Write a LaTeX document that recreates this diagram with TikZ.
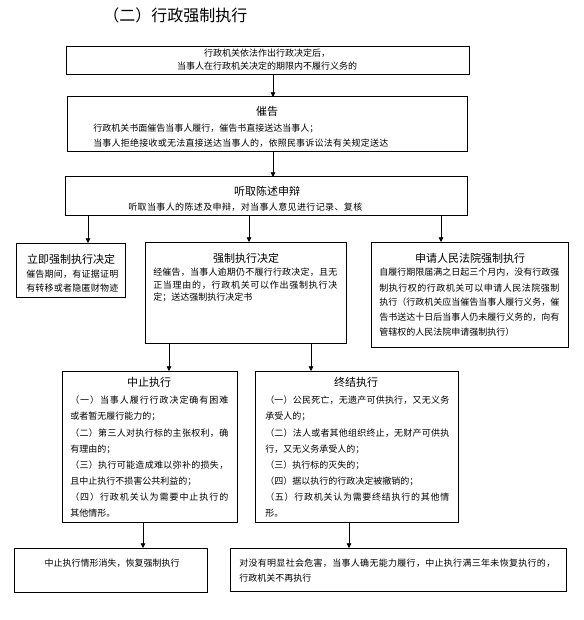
\documentclass[tikz,border=0pt]{standalone}
\usepackage{fontspec}
\setmainfont{Noto Sans CJK SC}
\usetikzlibrary{arrows.meta}
\newdimen\mypx \mypx=0.75pt
\def\jloop#1{\ifx\relax#1\else#1\hskip 0pt plus 1fil\expandafter\jloop\fi}
\newcommand\jl[2]{\hbox to #1\mypx{\jloop#2\relax\unskip}}
\newcommand\boxat[5]{\node[box, minimum width=#4\mypx, minimum height=#5\mypx] (#1) at (#2,#3) {};}
\tikzset{
  box/.style={draw=black, line width=0.75pt, anchor=north west, inner sep=0pt, outer sep=0pt},
  tt/.style={inner sep=0pt, font=\fontsize{8.25pt}{10pt}\selectfont},
  tx/.style={inner sep=0pt, anchor=west, font=\fontsize{6.75pt}{8pt}\selectfont},
  txc/.style={inner sep=0pt, font=\fontsize{6.75pt}{8pt}\selectfont},
  arr/.style={line width=0.6pt, -{Triangle[length=3.5pt,width=3.5pt]}},
}
\begin{document}
\begin{tikzpicture}[x=0.75pt,y=-0.75pt]
\useasboundingbox (0,0) rectangle (583,620);
% x positions of connectors
\coordinate (xA) at (273,0);
\coordinate (xL) at (88,0);
\coordinate (xM) at (249,0);
\coordinate (xR) at (441,0);
\coordinate (xP) at (169,0);
\coordinate (xQ) at (311,0);
\coordinate (xS) at (143,0);
\coordinate (xT) at (349,0);

\node[inner sep=0pt, anchor=west, font=\fontsize{12pt}{14pt}\selectfont] (title) at (103,15) {（二）行政强制执行};

% boxes
\boxat{b1}{66}{47}{403}{28}
\boxat{b2}{67}{97}{400}{55}
\boxat{b3}{65}{177}{402}{38}
\boxat{b4}{16}{243}{109}{54}
\boxat{b5}{145}{242}{201}{101}
\boxat{b6}{371}{242}{197}{105}
\boxat{b7}{62}{371}{175}{151}
\boxat{b8}{255}{371}{203}{151}
\boxat{b9}{14}{548}{193}{44}
\boxat{b10}{230}{548}{336}{43}

% box 1
\node[txc] (t1a) at (267,53) {行政机关依法作出行政决定后，};
\node[txc] (t1b) at (267,66) {当事人在行政机关决定的期限内不履行义务的};

% box 2
\node[tt] (t2) at (267,111) {催告};
\node[tx] (t2a) at (93,128) {行政机关书面催告当事人履行，催告书直接送达当事人；};
\node[tx] (t2b) at (93,143) {\jl{295}{当事人拒绝接收或无法直接送达当事人的，依照民事诉讼法有关规定送达}};

% box 3
\node[tt] (t3) at (267,191) {听取陈述申辩};
\node[tx] (t3a) at (128,207) {\jl{234}{听取当事人的陈述及申辩，对当事人意见进行记录、复核}};

% box 4
\node[tt] (t4) at (71,259) {立即强制执行决定};
\node[tx] (t4a) at (26,274) {\jl{92}{催告期间，有证据证明}};
\node[tx] (t4b) at (26,288) {\jl{92}{有转移或者隐匿财物迹}};

% box 5
\node[tt] (t5) at (246,258) {强制执行决定};
\node[tx] (t5a) at (153,272) {\jl{184}{经催告，当事人逾期仍不履行行政决定，且无}};
\node[tx] (t5b) at (153,285) {\jl{184}{正当理由的，行政机关可以作出强制执行决}};
\node[tx] (t5c) at (153,297) {定；送达强制执行决定书};

% box 6
\node[tt] (t6) at (470,258) {申请人民法院强制执行};
\node[tx] (t6a) at (379,272) {\jl{180}{自履行期限届满之日起三个月内，没有行政强}};
\node[tx] (t6b) at (379,288) {\jl{180}{制执行权的行政机关可以申请人民法院强制}};
\node[tx] (t6c) at (379,302) {\jl{180}{执行（行政机关应当催告当事人履行义务，催}};
\node[tx] (t6d) at (379,317) {\jl{180}{告书送达十日后当事人仍未履行义务的，向有}};
\node[tx] (t6e) at (379,332) {管辖权的人民法院申请强制执行）};

% box 7
\node[tt] (t7) at (149,382) {中止执行};
\node[tx] (t7a) at (70,400) {\jl{158}{（一）当事人履行行政决定确有困难}};
\node[tx] (t7b) at (70,416) {或者暂无履行能力的；};
\node[tx] (t7c) at (70,433) {\jl{158}{（二）第三人对执行标的主张权利，确}};
\node[tx] (t7d) at (70,449) {有理由的；};
\node[tx] (t7e) at (70,465) {\jl{158}{（三）执行可能造成难以弥补的损失，}};
\node[tx] (t7f) at (70,481) {且中止执行不损害公共利益的；};
\node[tx] (t7g) at (70,497) {\jl{158}{（四）行政机关认为需要中止执行的}};
\node[tx] (t7h) at (70,513) {其他情形。};

% box 8
\node[tt] (t8) at (356,382) {终结执行};
\node[tx] (t8a) at (265,400) {\jl{184}{（一）公民死亡，无遗产可供执行，又无义务}};
\node[tx] (t8b) at (265,416) {承受人的；};
\node[tx] (t8c) at (265,433) {\jl{184}{（二）法人或者其他组织终止，无财产可供执}};
\node[tx] (t8d) at (265,449) {行，又无义务承受人的；};
\node[tx] (t8e) at (265,465) {（三）执行标的灭失的；};
\node[tx] (t8f) at (265,481) {（四）据以执行的行政决定被撤销的；};
\node[tx] (t8g) at (265,497) {\jl{184}{（五）行政机关认为需要终结执行的其他情}};
\node[tx] (t8h) at (265,513) {形。};

% box 9
\node[txc] (t9) at (112,563) {中止执行情形消失，恢复强制执行};

% box 10
\node[tx] (t10a) at (239,563) {\jl{316}{对没有明显社会危害，当事人确无能力履行，中止执行满三年未恢复执行的，}};
\node[tx] (t10b) at (239,578) {行政机关不再执行};

% connectors
\draw[arr] (b1.south -| xA) -- (b2.north -| xA);
\draw[arr] (b2.south -| xA) -- (b3.north -| xA);
\draw[arr] (b3.south -| xL) -- (b4.north -| xL);
\draw[arr] (b3.south -| xM) -- (b5.north -| xM);
\draw[arr] (b3.south -| xR) -- (b6.north -| xR);
\draw[arr] (b5.south -| xP) -- (b7.north -| xP);
\draw[arr] (b5.south -| xQ) -- (b8.north -| xQ);
\draw[arr] (b7.south -| xS) -- (b9.north -| xS);
\draw[arr] (b8.south -| xT) -- (b10.north -| xT);
\end{tikzpicture}
\end{document}
